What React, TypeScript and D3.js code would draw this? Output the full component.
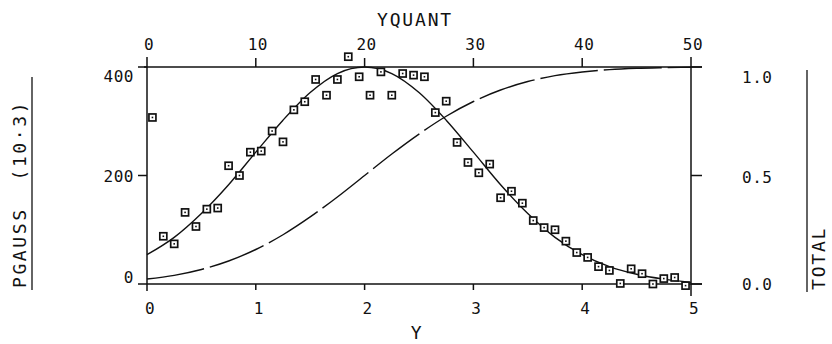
import React from "react";
import * as d3 from "d3";

// measured points (Y bin centre, PGAUSS in 10^-3)
const pointY = [
  0.05, 0.15, 0.25, 0.35, 0.45, 0.55, 0.65, 0.75, 0.85, 0.95,
  1.05, 1.15, 1.25, 1.35, 1.45, 1.55, 1.65, 1.75, 1.85, 1.95,
  2.05, 2.15, 2.25, 2.35, 2.45, 2.55, 2.65, 2.75, 2.85, 2.95,
  3.05, 3.15, 3.25, 3.35, 3.45, 3.55, 3.65, 3.75, 3.85, 3.95,
  4.05, 4.15, 4.25, 4.35, 4.45, 4.55, 4.65, 4.75, 4.85, 4.95,
];
const pointP = [
  307, 88, 74, 132, 106, 138, 140, 218, 200, 243,
  245, 282, 262, 321, 336, 377, 348, 377, 419, 382,
  348, 391, 348, 388, 385, 382, 316, 337, 261, 224,
  205, 221, 159, 171, 149, 117, 104, 100, 79, 58,
  49, 32, 25, 1, 28, 19, 0, 10, 12, -3,
];

const curveY = [
  0, 0.25, 0.5, 0.75, 1, 1.25, 1.5, 1.75, 2, 2.25, 2.5,
  2.75, 3, 3.25, 3.5, 3.75, 4, 4.25, 4.5, 4.75, 5,
];
const gaussP = [
  54, 86, 130, 183, 243, 302, 353, 388, 400, 388, 353,
  302, 243, 183, 130, 86, 54, 32, 18, 9, 3,
];
const total = [
  0.023, 0.04, 0.067, 0.106, 0.159, 0.227, 0.309, 0.401, 0.5, 0.599, 0.691,
  0.773, 0.841, 0.894, 0.933, 0.96, 0.977, 0.988, 0.994, 0.997, 0.999,
];

const yTicks = [0, 1, 2, 3, 4, 5];
const quantTicks = [0, 10, 20, 30, 40, 50];
const leftTicks = [0, 200, 400];
const rightTicks = [0, 0.5, 1.0];

const INK = "#111";
const FONT = "'DejaVu Sans Mono', monospace";

export default function App() {
  const x = d3.scaleLinear().domain([0, 5]).range([147, 691]);
  const xq = d3.scaleLinear().domain([0, 50]).range([147, 691]);
  const yl = d3.scaleLinear().domain([0, 400]).range([284, 67]);
  const yr = d3.scaleLinear().domain([0, 1]).range([284, 67]);

  const gaussLine = d3
    .line<number>()
    .x((_, i) => x(curveY[i]))
    .y((d) => yl(d))
    .curve(d3.curveMonotoneX);
  const totalLine = d3
    .line<number>()
    .x((_, i) => x(curveY[i]))
    .y((d) => yr(d))
    .curve(d3.curveMonotoneX);

  const top = yl(400);
  const bottom = yl(0);
  const left = x(0);
  const right = x(5);

  return (
    <svg
      width={832}
      height={344}
      style={{ position: "absolute", left: 0, top: 0, background: "#fff" }}
    >
      <g stroke={INK} strokeWidth={1.5} fill="none">
        {/* frame */}
        <line x1={left - 3} x2={right + 11} y1={top} y2={top} />
        <line x1={left} x2={right + 11} y1={bottom} y2={bottom} />
        <line x1={left} x2={left} y1={top - 10} y2={bottom + 7} />
        <line x1={right} x2={right} y1={top - 10} y2={bottom + 12} />
        {/* bottom ticks */}
        {yTicks.slice(1, -1).map((t) => (
          <line key={t} x1={x(t)} x2={x(t)} y1={bottom} y2={bottom + 6} />
        ))}
        {/* top ticks */}
        {quantTicks.slice(1, -1).map((t) => (
          <line key={t} x1={xq(t)} x2={xq(t)} y1={top} y2={top - 9} />
        ))}
        {/* left ticks */}
        {leftTicks.map((t) => (
          <line key={t} x1={left - 9} x2={left} y1={yl(t)} y2={yl(t)} />
        ))}
        {/* right ticks */}
        {rightTicks.map((t) => (
          <line key={t} x1={right} x2={right + 11} y1={yr(t)} y2={yr(t)} />
        ))}
        {/* title rules */}
        <line x1={32} x2={32} y1={77} y2={290} strokeWidth={1.3} />
        <line x1={807} x2={807} y1={70} y2={292} strokeWidth={1.3} />
      </g>

      <path d={gaussLine(gaussP) ?? ""} fill="none" stroke={INK} strokeWidth={1.4} />
      <path
        d={totalLine(total) ?? ""}
        fill="none"
        stroke={INK}
        strokeWidth={1.4}
        strokeDasharray="58,6"
      />

      {pointP.map((p, i) => (
        <g key={i} transform={`translate(${x(pointY[i])},${yl(p)})`}>
          <rect x={-3.5} y={-3.5} width={7} height={7} fill="#fff" stroke={INK} strokeWidth={1.7} />
          <rect x={-0.8} y={-0.8} width={1.6} height={1.6} fill={INK} />
        </g>
      ))}

      <g fontFamily={FONT} fontSize={16} fill={INK} letterSpacing={0.5}>
        {yTicks.map((t) => (
          <text key={t} x={x(t) + 3} y={314} textAnchor="middle">
            {t}
          </text>
        ))}
        {quantTicks.map((t) => (
          <text key={t} x={xq(t) + 2} y={50} textAnchor="middle">
            {t}
          </text>
        ))}
        {leftTicks.map((t) => (
          <text
            key={t}
            x={134}
            y={Math.min(Math.max(yl(t) + 6, 82), 283)}
            textAnchor="end"
          >
            {t}
          </text>
        ))}
        {rightTicks.map((t) => (
          <text
            key={t}
            x={742}
            y={Math.min(Math.max(yr(t) + 7, 83), 290)}
            textAnchor="start"
          >
            {d3.format(".1f")(t)}
          </text>
        ))}
      </g>

      <g fontFamily={FONT} fontSize={18} fill={INK} letterSpacing={1.8}>
        <text x={415} y={26} textAnchor="middle">
          YQUANT
        </text>
        <text x={417} y={339} textAnchor="middle">
          Y
        </text>
        <text
          transform="translate(26,288) rotate(-90)"
          textAnchor="start"
          xmlSpace="preserve"
          letterSpacing={2.6}
        >
          PGAUSS  (10·3)
        </text>
        <text transform="translate(825,290) rotate(-90)" textAnchor="start">
          TOTAL
        </text>
      </g>
    </svg>
  );
}
